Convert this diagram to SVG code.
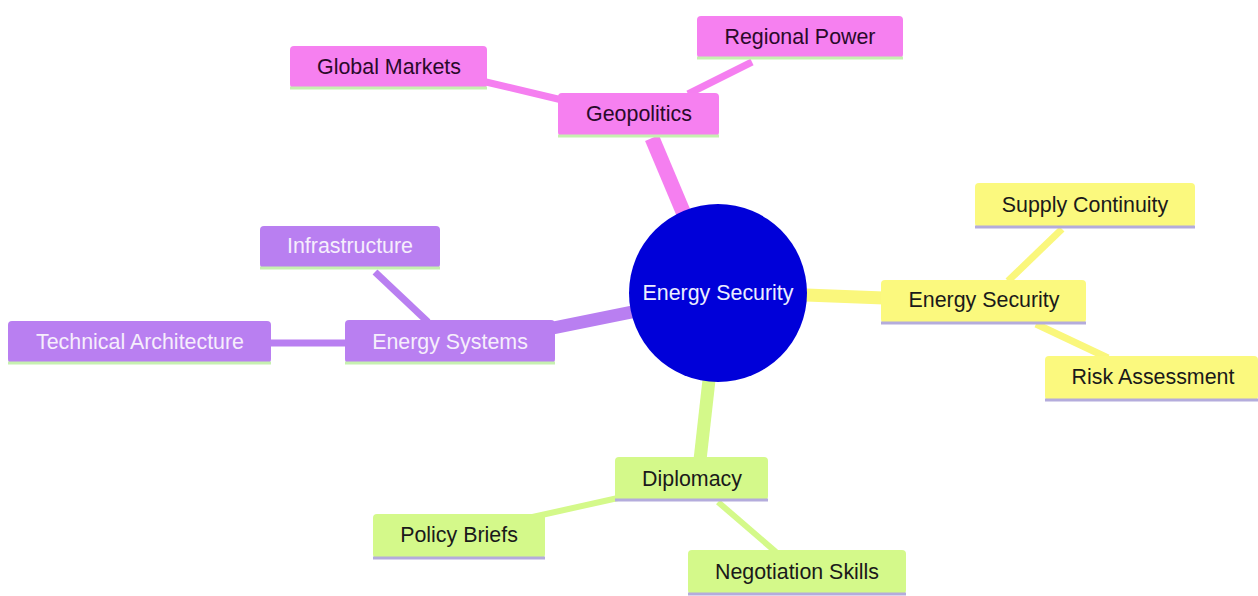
<svg xmlns="http://www.w3.org/2000/svg" width="1258" height="596" viewBox="0 0 1258 596">
<style>
text{font-family:"Liberation Sans",Arial,sans-serif;font-size:21.4px;text-anchor:middle;dominant-baseline:central}
.pk rect{fill:#f680f0}.pk text{fill:#2a0a2a}
.pu rect{fill:#b97ff1}.pu text{fill:#f6eefc}
.ye rect{fill:#fbf97e}.ye text{fill:#1a1a1a}
.gr rect{fill:#d4f98a}.gr text{fill:#1a1a1a}
.ulg{stroke:#c6f0b0;stroke-width:3}
.ulv{stroke:#b4acdc;stroke-width:3}
.e{fill:none;stroke-linecap:butt}
</style>
<g id="connectors">
<line class="e" x1="684" y1="214" x2="652" y2="138" stroke="#f57ff0" stroke-width="15"/>
<line class="e" x1="562" y1="100" x2="486" y2="82" stroke="#f57ff0" stroke-width="7"/>
<line class="e" x1="688" y1="94" x2="752" y2="62" stroke="#f57ff0" stroke-width="7"/>
<line class="e" x1="632" y1="312" x2="553" y2="328" stroke="#b97ff1" stroke-width="13"/>
<line class="e" x1="428" y1="322" x2="375" y2="272" stroke="#b97ff1" stroke-width="7"/>
<line class="e" x1="270" y1="343" x2="347" y2="343" stroke="#b97ff1" stroke-width="7"/>
<line class="e" x1="806" y1="295" x2="884" y2="298" stroke="#faf77c" stroke-width="13"/>
<line class="e" x1="1008" y1="281" x2="1062" y2="229" stroke="#faf77c" stroke-width="7"/>
<line class="e" x1="1036" y1="324" x2="1108" y2="358" stroke="#faf77c" stroke-width="7"/>
<line class="e" x1="709" y1="380" x2="700" y2="460" stroke="#d4f98a" stroke-width="13"/>
<line class="e" x1="618" y1="498" x2="528" y2="518" stroke="#d4f98a" stroke-width="6"/>
<line class="e" x1="718" y1="502" x2="776" y2="552" stroke="#d4f98a" stroke-width="6"/>
</g>
<g id="root"><circle cx="718" cy="293" r="89" fill="#0000d9"/><text x="718" y="293" fill="#eceeff">Energy Security</text></g>
<g id="geopolitics" class="pk"><rect x="558" y="93" width="161" height="43" rx="4"/><line class="ulg" x1="558" y1="136" x2="719" y2="136"/><text x="639" y="114">Geopolitics</text></g>
<g id="global-markets" class="pk"><rect x="290" y="46" width="197" height="42" rx="4"/><line class="ulg" x1="290" y1="88" x2="487" y2="88"/><text x="389" y="67">Global Markets</text></g>
<g id="regional-power" class="pk"><rect x="697" y="16" width="206" height="42" rx="4"/><line class="ulg" x1="697" y1="58" x2="903" y2="58"/><text x="800" y="37">Regional Power</text></g>
<g id="energy-systems" class="pu"><rect x="345" y="320" width="210" height="43" rx="4"/><line class="ulg" x1="345" y1="363" x2="555" y2="363"/><text x="450" y="342">Energy Systems</text></g>
<g id="infrastructure" class="pu"><rect x="260" y="226" width="180" height="42" rx="4"/><line class="ulg" x1="260" y1="268" x2="440" y2="268"/><text x="350" y="246">Infrastructure</text></g>
<g id="technical-architecture" class="pu"><rect x="8" y="321" width="263" height="42" rx="4"/><line class="ulg" x1="8" y1="363" x2="271" y2="363"/><text x="140" y="342">Technical Architecture</text></g>
<g id="energy-security" class="ye"><rect x="881" y="280" width="205" height="43" rx="4"/><line class="ulv" x1="881" y1="323" x2="1086" y2="323"/><text x="984" y="300">Energy Security</text></g>
<g id="supply-continuity" class="ye"><rect x="975" y="183" width="220" height="44" rx="4"/><line class="ulv" x1="975" y1="227" x2="1195" y2="227"/><text x="1085" y="205">Supply Continuity</text></g>
<g id="risk-assessment" class="ye"><rect x="1045" y="356" width="213" height="44" rx="4"/><line class="ulv" x1="1045" y1="400" x2="1258" y2="400"/><text x="1153" y="377">Risk Assessment</text></g>
<g id="diplomacy" class="gr"><rect x="615" y="457" width="153" height="43" rx="4"/><line class="ulv" x1="615" y1="500" x2="768" y2="500"/><text x="692" y="479">Diplomacy</text></g>
<g id="policy-briefs" class="gr"><rect x="373" y="514" width="172" height="44" rx="4"/><line class="ulv" x1="373" y1="558" x2="545" y2="558"/><text x="459" y="535">Policy Briefs</text></g>
<g id="negotiation-skills" class="gr"><rect x="688" y="550" width="218" height="44" rx="4"/><line class="ulv" x1="688" y1="594" x2="906" y2="594"/><text x="797" y="572">Negotiation Skills</text></g>
</svg>
